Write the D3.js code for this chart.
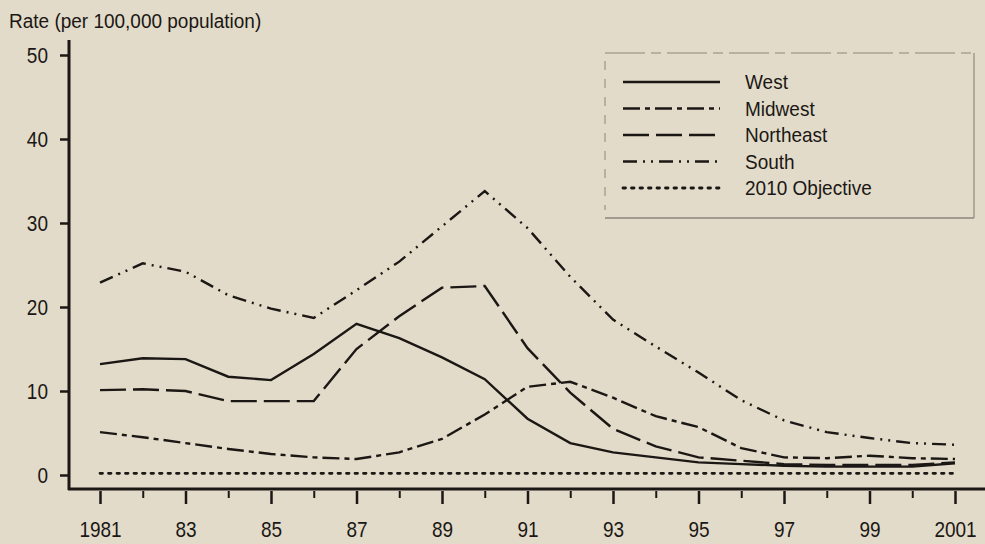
<!DOCTYPE html>
<html>
<head>
<meta charset="utf-8">
<script src="https://cdn.jsdelivr.net/npm/d3@7"></script>
<style>
  body { margin: 0; background: #e2dbc9; }
  svg { display: block; }
  text { font-family: "Liberation Sans", Arial, sans-serif; fill: #1b1714; }
</style>
</head>
<body>
<div id="chart"></div>
<script>
// data
var years = d3.range(1981, 2002);
var west      = [13.2, 13.9, 13.8, 11.7, 11.3, 14.4, 18.0, 16.3, 14.0, 11.4, 6.7, 3.8, 2.7, 2.1, 1.5, 1.3, 1.1, 1.0, 1.0, 1.0, 1.4];
var midwest   = [5.1, 4.5, 3.8, 3.1, 2.5, 2.1, 1.9, 2.7, 4.3, 7.2, 10.5, 11.1, 9.2, 7.0, 5.7, 3.2, 2.1, 2.0, 2.3, 2.0, 1.9];
var northeast = [10.1, 10.2, 10.0, 8.8, 8.8, 8.8, 15.0, 18.9, 22.3, 22.5, 15.1, 9.8, 5.5, 3.4, 2.1, 1.7, 1.3, 1.2, 1.2, 1.2, 1.5];
var south     = [22.9, 25.2, 24.2, 21.4, 19.8, 18.7, 22.0, 25.4, 29.6, 33.8, 29.4, 23.6, 18.5, 15.3, 12.2, 8.9, 6.5, 5.1, 4.4, 3.8, 3.6];
var objective = years.map(function() { return 0.2; });
var yTicks = [0, 10, 20, 30, 40, 50];
var labelYears = [1981, 1983, 1985, 1987, 1989, 1991, 1993, 1995, 1997, 1999, 2001];
var seriesNames = ["West", "Midwest", "Northeast", "South", "2010 Objective"];

var width = 985, height = 544;
var dashes = ["none", "17,5,5,5", "26,7", "14,6,2,6,2,6", "2.5,6"];
var allSeries = [west, midwest, northeast, south, objective];

var svg = d3.select("#chart")
    .append("svg")
    .attr("width", width)
    .attr("height", height);

var x = d3.scaleLinear().domain([1981, 2001]).range([100, 955]);
var y = d3.scaleLinear().domain([0, 50]).range([475, 55]);

var axisX = 69, axisY = 489;

// y axis
var yAxis = d3.axisLeft(y).tickValues(yTicks).tickSize(9).tickSizeOuter(0).tickPadding(12);
var gy = svg.append("g")
    .attr("class", "y axis")
    .attr("transform", "translate(" + axisX + ",0)")
    .call(yAxis);
gy.select(".domain").remove();
gy.selectAll(".tick line").attr("stroke", "#1b1714").attr("stroke-width", 2.5);
gy.selectAll(".tick text")
    .attr("font-size", 19)
    .attr("fill", "#1b1714")
    .attr("dy", null)
    .attr("y", 0)
    .attr("transform", "translate(-21,7) scale(1,1.15)")
    .attr("x", 0);

svg.append("line")
    .attr("x1", axisX).attr("x2", axisX)
    .attr("y1", 40).attr("y2", axisY + 1)
    .attr("stroke", "#1b1714").attr("stroke-width", 3);

// x axis, major ticks with labels
var xMajor = d3.axisBottom(x).tickValues(labelYears).tickSize(13).tickSizeOuter(0)
    .tickFormat(function(d) { return (d == 1981 || d == 2001) ? d : d3.format("02")(d % 100); });
var gx = svg.append("g")
    .attr("class", "x axis")
    .attr("transform", "translate(0," + (axisY + 2) + ")")
    .call(xMajor);
gx.select(".domain").remove();
gx.selectAll(".tick line").attr("stroke", "#1b1714").attr("stroke-width", 2.5);
gx.selectAll(".tick text")
    .attr("font-size", 19)
    .attr("fill", "#1b1714")
    .attr("dy", null)
    .attr("y", 0)
    .attr("transform", "translate(0,46) scale(1,1.2)");

// x axis, minor ticks
var xMinor = d3.axisBottom(x).tickValues(years.filter(function(d) { return d % 2 == 0; }))
    .tickSize(7).tickSizeOuter(0).tickFormat("");
var gx2 = svg.append("g")
    .attr("transform", "translate(0," + (axisY + 2) + ")")
    .call(xMinor);
gx2.select(".domain").remove();
gx2.selectAll(".tick line").attr("stroke", "#1b1714").attr("stroke-width", 2);

svg.append("line")
    .attr("x1", axisX - 1).attr("x2", width)
    .attr("y1", axisY).attr("y2", axisY)
    .attr("stroke", "#1b1714").attr("stroke-width", 3);

// axis title
svg.append("text")
    .attr("transform", "translate(9,28) scale(1,1.06)")
    .attr("font-size", 19)
    .text("Rate (per 100,000 population)");

// lines
var line = d3.line()
    .x(function(d, i) { return x(years[i]); })
    .y(function(d) { return y(d); });

svg.selectAll(".series")
    .data(allSeries)
    .enter()
    .append("path")
    .attr("class", "series")
    .attr("d", line)
    .attr("fill", "none")
    .attr("stroke", "#1b1714")
    .attr("stroke-width", function(d, i) { return i == 4 ? 2.8 : 2.4; })
    .attr("stroke-linecap", function(d, i) { return i == 4 ? "round" : "butt"; })
    .attr("stroke-dasharray", function(d, i) { return dashes[i]; });

// legend
var legend = svg.append("g").attr("class", "legend");
var lx0 = 605, lx1 = 974, ly0 = 53, ly1 = 218;
legend.append("line").attr("x1", lx0).attr("x2", lx1).attr("y1", ly0).attr("y2", ly0)
    .attr("stroke", "#8d877c").attr("stroke-width", 1).attr("stroke-dasharray", "40,6,10,6");
legend.append("line").attr("x1", lx0).attr("x2", lx0).attr("y1", ly0 + 8).attr("y2", ly1 - 8)
    .attr("stroke", "#8d877c").attr("stroke-width", 1).attr("stroke-dasharray", "9,9");
legend.append("line").attr("x1", lx1).attr("x2", lx1).attr("y1", ly0).attr("y2", ly1)
    .attr("stroke", "#a09a8e").attr("stroke-width", 1.5);
legend.append("line").attr("x1", lx0).attr("x2", lx1).attr("y1", ly1).attr("y2", ly1)
    .attr("stroke", "#8d877c").attr("stroke-width", 1.5);

var rows = legend.selectAll(".row")
    .data(seriesNames)
    .enter()
    .append("g")
    .attr("class", "row")
    .attr("transform", function(d, i) { return "translate(0," + (82 + i * 26.5) + ")"; });
rows.append("line")
    .attr("x1", 623).attr("x2", 720)
    .attr("stroke", "#1b1714")
    .attr("stroke-width", function(d, i) { return i == 4 ? 2.8 : 2.4; })
    .attr("stroke-linecap", function(d, i) { return i == 4 ? "round" : "butt"; })
    .attr("stroke-dasharray", function(d, i) { return dashes[i]; });
rows.append("text")
    .attr("transform", "translate(745,7) scale(1,1.1)")
    .attr("font-size", 19)
    .text(function(d) { return d; });
</script>
</body>
</html>
